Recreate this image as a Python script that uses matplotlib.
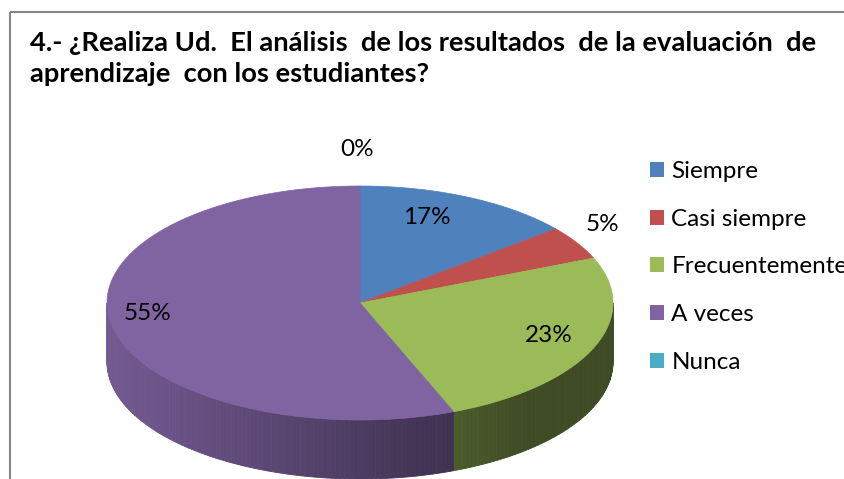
import numpy as np
import matplotlib
matplotlib.use("Agg")
import matplotlib.pyplot as plt
from matplotlib.patches import Rectangle, Patch
from matplotlib.colors import to_rgb

# ---------------- data ----------------
categories = ["Siempre", "Casi siempre", "Frecuentemente", "A veces", "Nunca"]
values = [17, 5, 23, 55, 0]
labels = ["17%", "5%", "23%", "55%", "0%"]
title_lines = ["4.- ¿Realiza Ud.  El análisis  de los resultados  de la evaluación  de",
               "aprendizaje  con los estudiantes?"]

# ---------------- styles / layout ----------------
colors = ["#4f81bd", "#c0504d", "#9bbb59", "#8064a2", "#4bacc6"]
FONT = ["Lato", "DejaVu Sans"]
W, H = 844, 479
CX, CY = 360, 303        # centre of top face (pixels)
RX, RY = 253, 117        # semi axes of top face
DEPTH = 59               # thickness of the pie
SKEW = np.deg2rad(12)    # perspective compression of the far side
label_xy = [(427, 218), (602, 224), (549, 335), (148, 313), (357, 150)]

fig = plt.figure(figsize=(W / 100, H / 100), dpi=100)
ax = fig.add_axes([0, 0, 1, 1])
ax.set_xlim(0, W)
ax.set_ylim(H, 0)
ax.axis("off")

# chart frame
ax.add_patch(Rectangle((10, 12), 1000, 1000, fill=False, edgecolor="#868686", lw=1.5))


def warp(theta):
    return theta - SKEW * np.sin(theta)


def ell(psi, dz=0.0):
    return CX + RX * np.sin(psi), CY - RY * np.cos(psi) + dz


vals = np.array(values, dtype=float)
fr = vals / vals.sum()
starts = np.concatenate([[0], np.cumsum(fr)[:-1]]) * 2 * np.pi
ends = np.cumsum(fr) * 2 * np.pi

# side walls (front half only)
for s, e, c in zip(starts, ends, colors):
    a, b = warp(s), warp(e)
    lo, hi = max(a, np.pi / 2), min(b, 1.5 * np.pi)
    if hi <= lo:
        continue
    n = max(int(np.degrees(hi - lo)), 2)
    edges = np.linspace(lo, hi, n + 1)
    base = np.array(to_rgb(c))
    for p0, p1 in zip(edges[:-1], edges[1:]):
        ps = np.linspace(p0, p1, 4)
        xt, yt = ell(ps)
        xb, yb = ell(ps[::-1], DEPTH)
        f = np.clip(0.6 - 0.3 * np.sin((p0 + p1) / 2), 0.4, 0.9)
        col = base * f
        ax.fill(np.concatenate([xt, xb]), np.concatenate([yt, yb]),
                facecolor=col, edgecolor=col, lw=0.6)

# top faces
for s, e, c in zip(starts, ends, colors):
    if e - s <= 0:
        continue
    ps = np.linspace(warp(s), warp(e), 200)
    x, y = ell(ps)
    ax.fill(np.concatenate([[CX], x]), np.concatenate([[CY], y]),
            facecolor=c, edgecolor=c, lw=0.5)

# data labels
for (lx, ly), t in zip(label_xy, labels):
    ax.text(lx, ly, t, ha="center", va="center", fontsize=17.5, family=FONT, color="black")

# title
ax.text(30, 51, title_lines[0], fontsize=19.7, fontweight="bold", family=FONT, va="baseline")
ax.text(30, 82, title_lines[1], fontsize=19.7, fontweight="bold", family=FONT, va="baseline")

# legend
handles = [Patch(facecolor=c, edgecolor="none") for c in colors]
ax.legend(handles, categories, loc="upper left", bbox_to_anchor=(650 / W, 1 - 161 / H),
          frameon=False, prop={"family": FONT, "size": 17.5}, handlelength=0.58,
          handleheight=0.58, handletextpad=0.3, labelspacing=1.1, borderpad=0,
          borderaxespad=0)

fig.savefig("out.png", dpi=100)
